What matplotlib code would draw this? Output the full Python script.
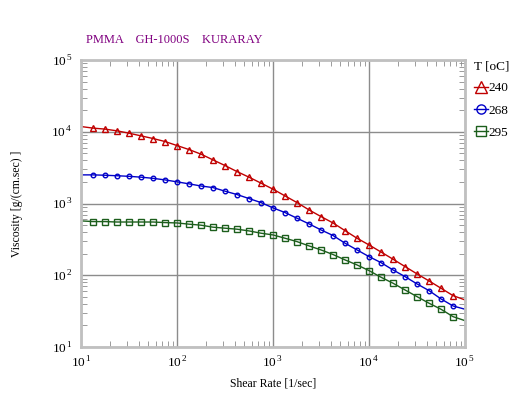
import numpy as np
import matplotlib
matplotlib.use('Agg')
import matplotlib.pyplot as plt
from matplotlib.ticker import FixedLocator, LogLocator, NullFormatter

plt.rcParams['font.family'] = ['Liberation Serif', 'DejaVu Serif']
plt.rcParams['mathtext.fontset'] = 'custom'
plt.rcParams['mathtext.rm'] = 'Liberation Serif'

# shear rate grid: 8 points per decade from 10 to 1e5
shear_rate = 10 ** (1 + np.arange(33) / 8)

# log10 of viscosity [g/(cm.sec)] for each temperature
log_eta_240 = [4.074, 4.052, 4.038, 4.014, 3.981, 3.944, 3.907, 3.865, 3.809,
               3.753, 3.689, 3.609, 3.530, 3.446, 3.368, 3.285, 3.201, 3.107,
               3.014, 2.912, 2.819, 2.730, 2.623, 2.517, 2.424, 2.325, 2.225,
               2.122, 2.020, 1.922, 1.820, 1.717, 1.657]
log_eta_268 = [3.400, 3.400, 3.395, 3.388, 3.380, 3.368, 3.352, 3.330, 3.303,
               3.275, 3.245, 3.223, 3.173, 3.126, 3.070, 3.014, 2.940, 2.875,
               2.796, 2.717, 2.633, 2.555, 2.448, 2.354, 2.261, 2.177, 2.075,
               1.982, 1.880, 1.787, 1.671, 1.573, 1.527]
log_eta_295 = [2.759, 2.749, 2.749, 2.743, 2.743, 2.743, 2.743, 2.735, 2.730,
               2.713, 2.699, 2.671, 2.657, 2.643, 2.619, 2.587, 2.563, 2.517,
               2.470, 2.410, 2.354, 2.290, 2.215, 2.145, 2.066, 1.973, 1.890,
               1.796, 1.703, 1.611, 1.527, 1.424, 1.368]

temps = ['240', '268', '295']
colors = ['#c00000', '#0000c8', '#1c5e1c']
markers = ['^', 'o', 's']
msizes = [4.5, 3.3, 3.8]

fig = plt.figure(figsize=(5.11, 3.98), dpi=100)
ax = fig.add_axes([0.1585, 0.128, 0.7515, 0.721])

for logs, t, c, m, ms in zip([log_eta_240, log_eta_268, log_eta_295],
                             temps, colors, markers, msizes):
    ax.plot(shear_rate, 10 ** np.array(logs), color=c, lw=1,
            marker=m, ms=ms, mfc='none', mec=c, mew=1,
            markevery=slice(1, -1), label=t)

ax.set_xscale('log')
ax.set_yscale('log')
ax.set_xlim(10, 1e5)
ax.set_ylim(10, 1e5)

ax.grid(True, which='major', color='#8c8c8c', lw=1)
for s in ax.spines.values():
    s.set_color('#c0c0c0')
    s.set_linewidth(2)

ax.xaxis.set_major_locator(FixedLocator([1e1, 1e2, 1e3, 1e4, 1e5]))
ax.yaxis.set_major_locator(FixedLocator([1e1, 1e2, 1e3, 1e4, 1e5]))
ax.xaxis.set_minor_locator(LogLocator(base=10, subs=np.arange(2, 10)))
ax.yaxis.set_minor_locator(LogLocator(base=10, subs=np.arange(2, 10)))
ax.xaxis.set_minor_formatter(NullFormatter())
ax.yaxis.set_minor_formatter(NullFormatter())
ax.set_xticklabels([r'$10^{\,%d}$' % e for e in range(1, 6)])
ax.set_yticklabels([r'$10^{\,%d}$' % e for e in range(1, 6)])
ax.tick_params(which='major', length=0, labelsize=9.5, pad=6)
ax.tick_params(which='minor', direction='in', length=4, color='#8c8c8c',
               top=True, right=True)

ax.set_xlabel('Shear Rate [1/sec]', fontsize=8.5, labelpad=5)
ax.set_ylabel('Viscosity [g/(cm.sec) ]', fontsize=8.5, labelpad=20)
fig.text(0.168, 0.893, 'PMMA    GH-1000S    KURARAY', color='#800080',
         fontsize=9)

leg = fig.legend(loc='upper left', bbox_to_anchor=(0.914, 0.865),
                 title='T [oC]', frameon=False, fontsize=9.5,
                 title_fontsize=9.5, handlelength=1.1, handletextpad=0.05,
                 labelspacing=0.75, borderpad=0, alignment='left')
for h in leg.legend_handles:
    h.set_markersize(h.get_markersize() * 2)

fig.savefig('out.png', dpi=100)
